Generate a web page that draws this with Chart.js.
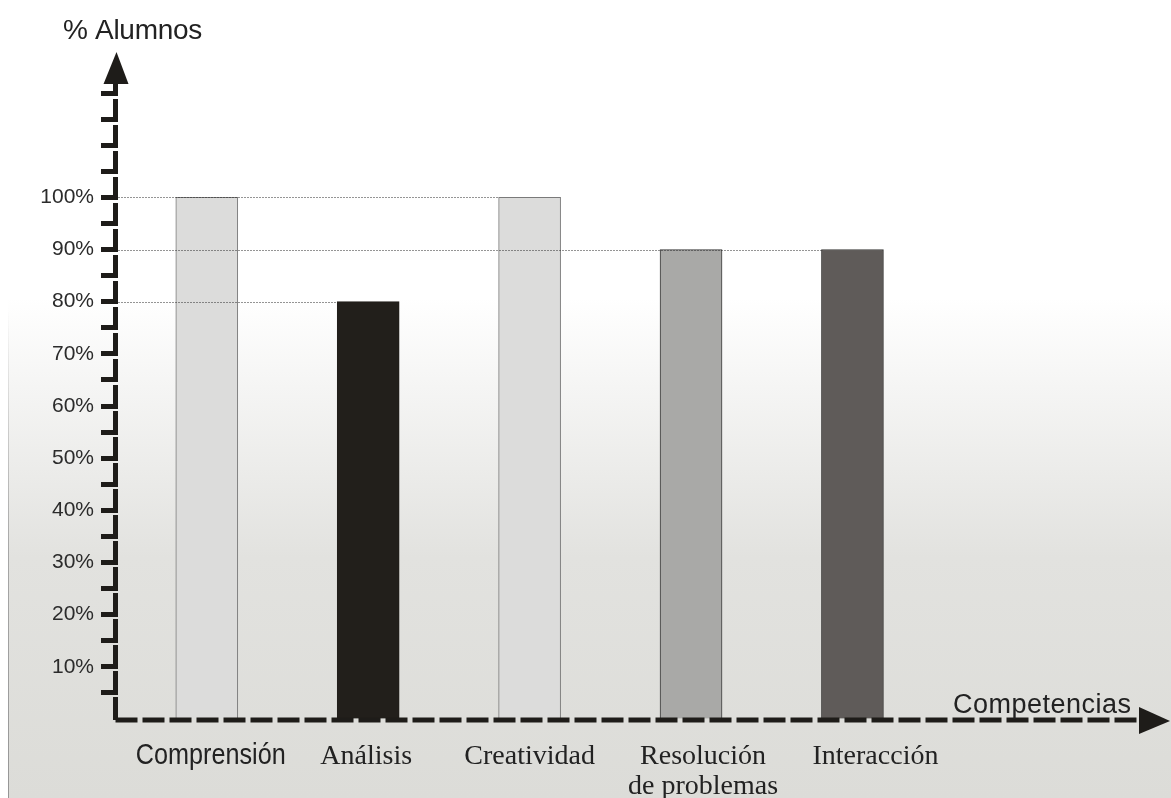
<!DOCTYPE html>
<html>
<head>
<meta charset="utf-8">
<title>% Alumnos por competencia</title>
<script src="https://cdn.jsdelivr.net/npm/chart.js@4.4.0/dist/chart.umd.min.js"></script>
<style>
  html, body { margin: 0; padding: 0; background: #ffffff; }
  canvas { display: block; }
</style>
</head>
<body>
<canvas id="competenciasChart" width="1171" height="798"></canvas>
<script>
// data
const categories = ["Comprensión", "Análisis", "Creatividad", ["Resolución", "de problemas"], "Interacción"];
const percentAlumnos = [100, 80, 100, 90, 90];
const yTickValues = [10, 20, 30, 40, 50, 60, 70, 80, 90, 100];
const yAxisTitle = "% Alumnos";
const xAxisTitle = "Competencias";

const barFill = ["#dcdcdb", "#221f1b", "#dcdcdb", "#a9a9a7", "#5f5b59"];
const barBorder = ["#7a7a7a", "#221f1b", "#7a7a7a", "#3a3a3a", "#3a3938"];
// Comprensión is set in a narrow sans, the rest in a serif face
const labelFonts = [
  { font: "30px 'Liberation Sans', Arial, sans-serif", squeeze: 0.84, shift: 4 },
  { font: "28px 'Liberation Serif', 'Times New Roman', serif", squeeze: 1, shift: -2 },
  { font: "28px 'Liberation Serif', 'Times New Roman', serif", squeeze: 1, shift: 0 },
  { font: "28px 'Liberation Serif', 'Times New Roman', serif", squeeze: 1, shift: 12 },
  { font: "28px 'Liberation Serif', 'Times New Roman', serif", squeeze: 1, shift: 23 }
];
const INK = "#1e1c19";
const AXIS_X = 115.5;

const backgroundPlugin = {
  id: "paperBackground",
  beforeDraw(chart) {
    const { ctx, width, height } = chart;
    ctx.save();
    ctx.fillStyle = "#ffffff";
    ctx.fillRect(0, 0, width, height);
    const grad = ctx.createLinearGradient(0, 298, 0, height);
    grad.addColorStop(0, "#ffffff");
    grad.addColorStop(0.52, "#e2e2df");
    grad.addColorStop(1, "#dcdcd8");
    ctx.fillStyle = grad;
    ctx.fillRect(8, 298, width - 8, height - 298);
    const edge = ctx.createLinearGradient(0, 310, 0, height);
    edge.addColorStop(0, "rgba(160,160,160,0)");
    edge.addColorStop(0.5, "rgba(160,160,160,0.9)");
    edge.addColorStop(1, "rgba(150,150,150,1)");
    ctx.strokeStyle = edge;
    ctx.lineWidth = 1;
    ctx.beginPath();
    ctx.moveTo(8.5, 310);
    ctx.lineTo(8.5, height);
    ctx.stroke();
    ctx.restore();
  }
};

const guideLinesPlugin = {
  id: "guideLines",
  afterDatasetsDraw(chart) {
    const { ctx } = chart;
    const meta = chart.getDatasetMeta(0);
    const yScale = chart.scales.y;
    const lastIndex = {};
    percentAlumnos.forEach((v, i) => { lastIndex[v] = i; });
    ctx.save();
    ctx.strokeStyle = "#2a2a2a";
    ctx.lineWidth = 1;
    ctx.setLineDash([1, 2]);
    Object.entries(lastIndex).forEach(([v, i]) => {
      const bar = meta.data[i];
      const y = Math.round(yScale.getPixelForValue(Number(v))) + 0.5;
      ctx.beginPath();
      ctx.moveTo(AXIS_X + 3, y);
      ctx.lineTo(bar.x - bar.width / 2, y);
      ctx.stroke();
    });
    ctx.restore();
  }
};

const axesPlugin = {
  id: "arrowAxes",
  afterDraw(chart) {
    const { ctx, chartArea } = chart;
    const xScale = chart.scales.x;
    const y0 = chart.scales.y.getPixelForValue(0) + 1;
    ctx.save();
    ctx.strokeStyle = INK;
    ctx.fillStyle = INK;
    ctx.lineWidth = 5;

    // vertical axis
    ctx.setLineDash([23, 3]);
    ctx.beginPath();
    ctx.moveTo(AXIS_X, y0);
    ctx.lineTo(AXIS_X, 82);
    ctx.stroke();
    ctx.setLineDash([]);
    ctx.beginPath();
    ctx.moveTo(AXIS_X - 12, 84);
    ctx.lineTo(AXIS_X + 1, 52);
    ctx.lineTo(AXIS_X + 13, 84);
    ctx.closePath();
    ctx.fill();

    // horizontal axis
    ctx.setLineDash([22, 5]);
    ctx.beginPath();
    ctx.moveTo(AXIS_X, y0);
    ctx.lineTo(chartArea.right, y0);
    ctx.stroke();
    ctx.setLineDash([]);
    ctx.beginPath();
    ctx.moveTo(chartArea.right - 4, y0 - 13);
    ctx.lineTo(1170, y0 + 1);
    ctx.lineTo(chartArea.right - 4, y0 + 14);
    ctx.closePath();
    ctx.fill();

    // axis titles
    ctx.fillStyle = "#222222";
    ctx.textBaseline = "alphabetic";
    ctx.textAlign = "left";
    ctx.font = "28px 'Liberation Sans', Arial, sans-serif";
    ctx.letterSpacing = "-0.3px";
    ctx.fillText(yAxisTitle, 63, 39);
    ctx.font = "27px 'Liberation Sans', Arial, sans-serif";
    ctx.letterSpacing = "0.5px";
    ctx.fillText(xAxisTitle, 953, 713);
    ctx.letterSpacing = "0px";

    // category labels
    categories.forEach((label, i) => {
      const style = labelFonts[i];
      const lines = Array.isArray(label) ? label : [label];
      const cx = xScale.getPixelForValue(i) + style.shift;
      ctx.font = style.font;
      ctx.textAlign = "center";
      lines.forEach((line, k) => {
        ctx.save();
        ctx.translate(cx, 764 + k * 30);
        ctx.scale(style.squeeze, 1);
        ctx.fillText(line, 0, 0);
        ctx.restore();
      });
    });
    ctx.restore();
  }
};

new Chart(document.getElementById("competenciasChart"), {
  type: "bar",
  data: {
    datasets: [{
      data: percentAlumnos.map((v, i) => ({ x: i, y: v })),
      backgroundColor: barFill,
      borderColor: barBorder,
      borderWidth: 1,
      borderSkipped: "bottom",
      barThickness: 62
    }]
  },
  options: {
    responsive: false,
    devicePixelRatio: 1,
    animation: false,
    layout: { padding: { top: 93, bottom: 79, left: 0, right: 28 } },
    plugins: { legend: { display: false }, tooltip: { enabled: false } },
    scales: {
      x: {
        type: "linear",
        offset: false,
        min: -0.55,
        max: 5.8,
        afterFit(scale) { scale.height = 0; },
        ticks: { display: false },
        grid: { display: false, offset: false },
        border: { display: false }
      },
      y: {
        min: 0,
        max: 120,
        afterFit(scale) { scale.width = 118; },
        afterBuildTicks(scale) {
          const ticks = [];
          for (let v = 0; v <= 120; v += 5) ticks.push({ value: v });
          scale.ticks = ticks;
        },
        ticks: {
          autoSkip: false,
          padding: 7,
          color: "#2b2b2b",
          font: { family: "'Liberation Sans', Arial, sans-serif", size: 21 },
          callback: (v) => (yTickValues.includes(v) ? v + "%" : "")
        },
        grid: {
          drawOnChartArea: false,
          drawTicks: true,
          tickLength: 17,
          tickWidth: 5,
          tickColor: (ctx) => (ctx.tick && ctx.tick.value === 0 ? "rgba(0,0,0,0)" : INK)
        },
        border: { display: false }
      }
    }
  },
  plugins: [backgroundPlugin, guideLinesPlugin, axesPlugin]
});
</script>
</body>
</html>
